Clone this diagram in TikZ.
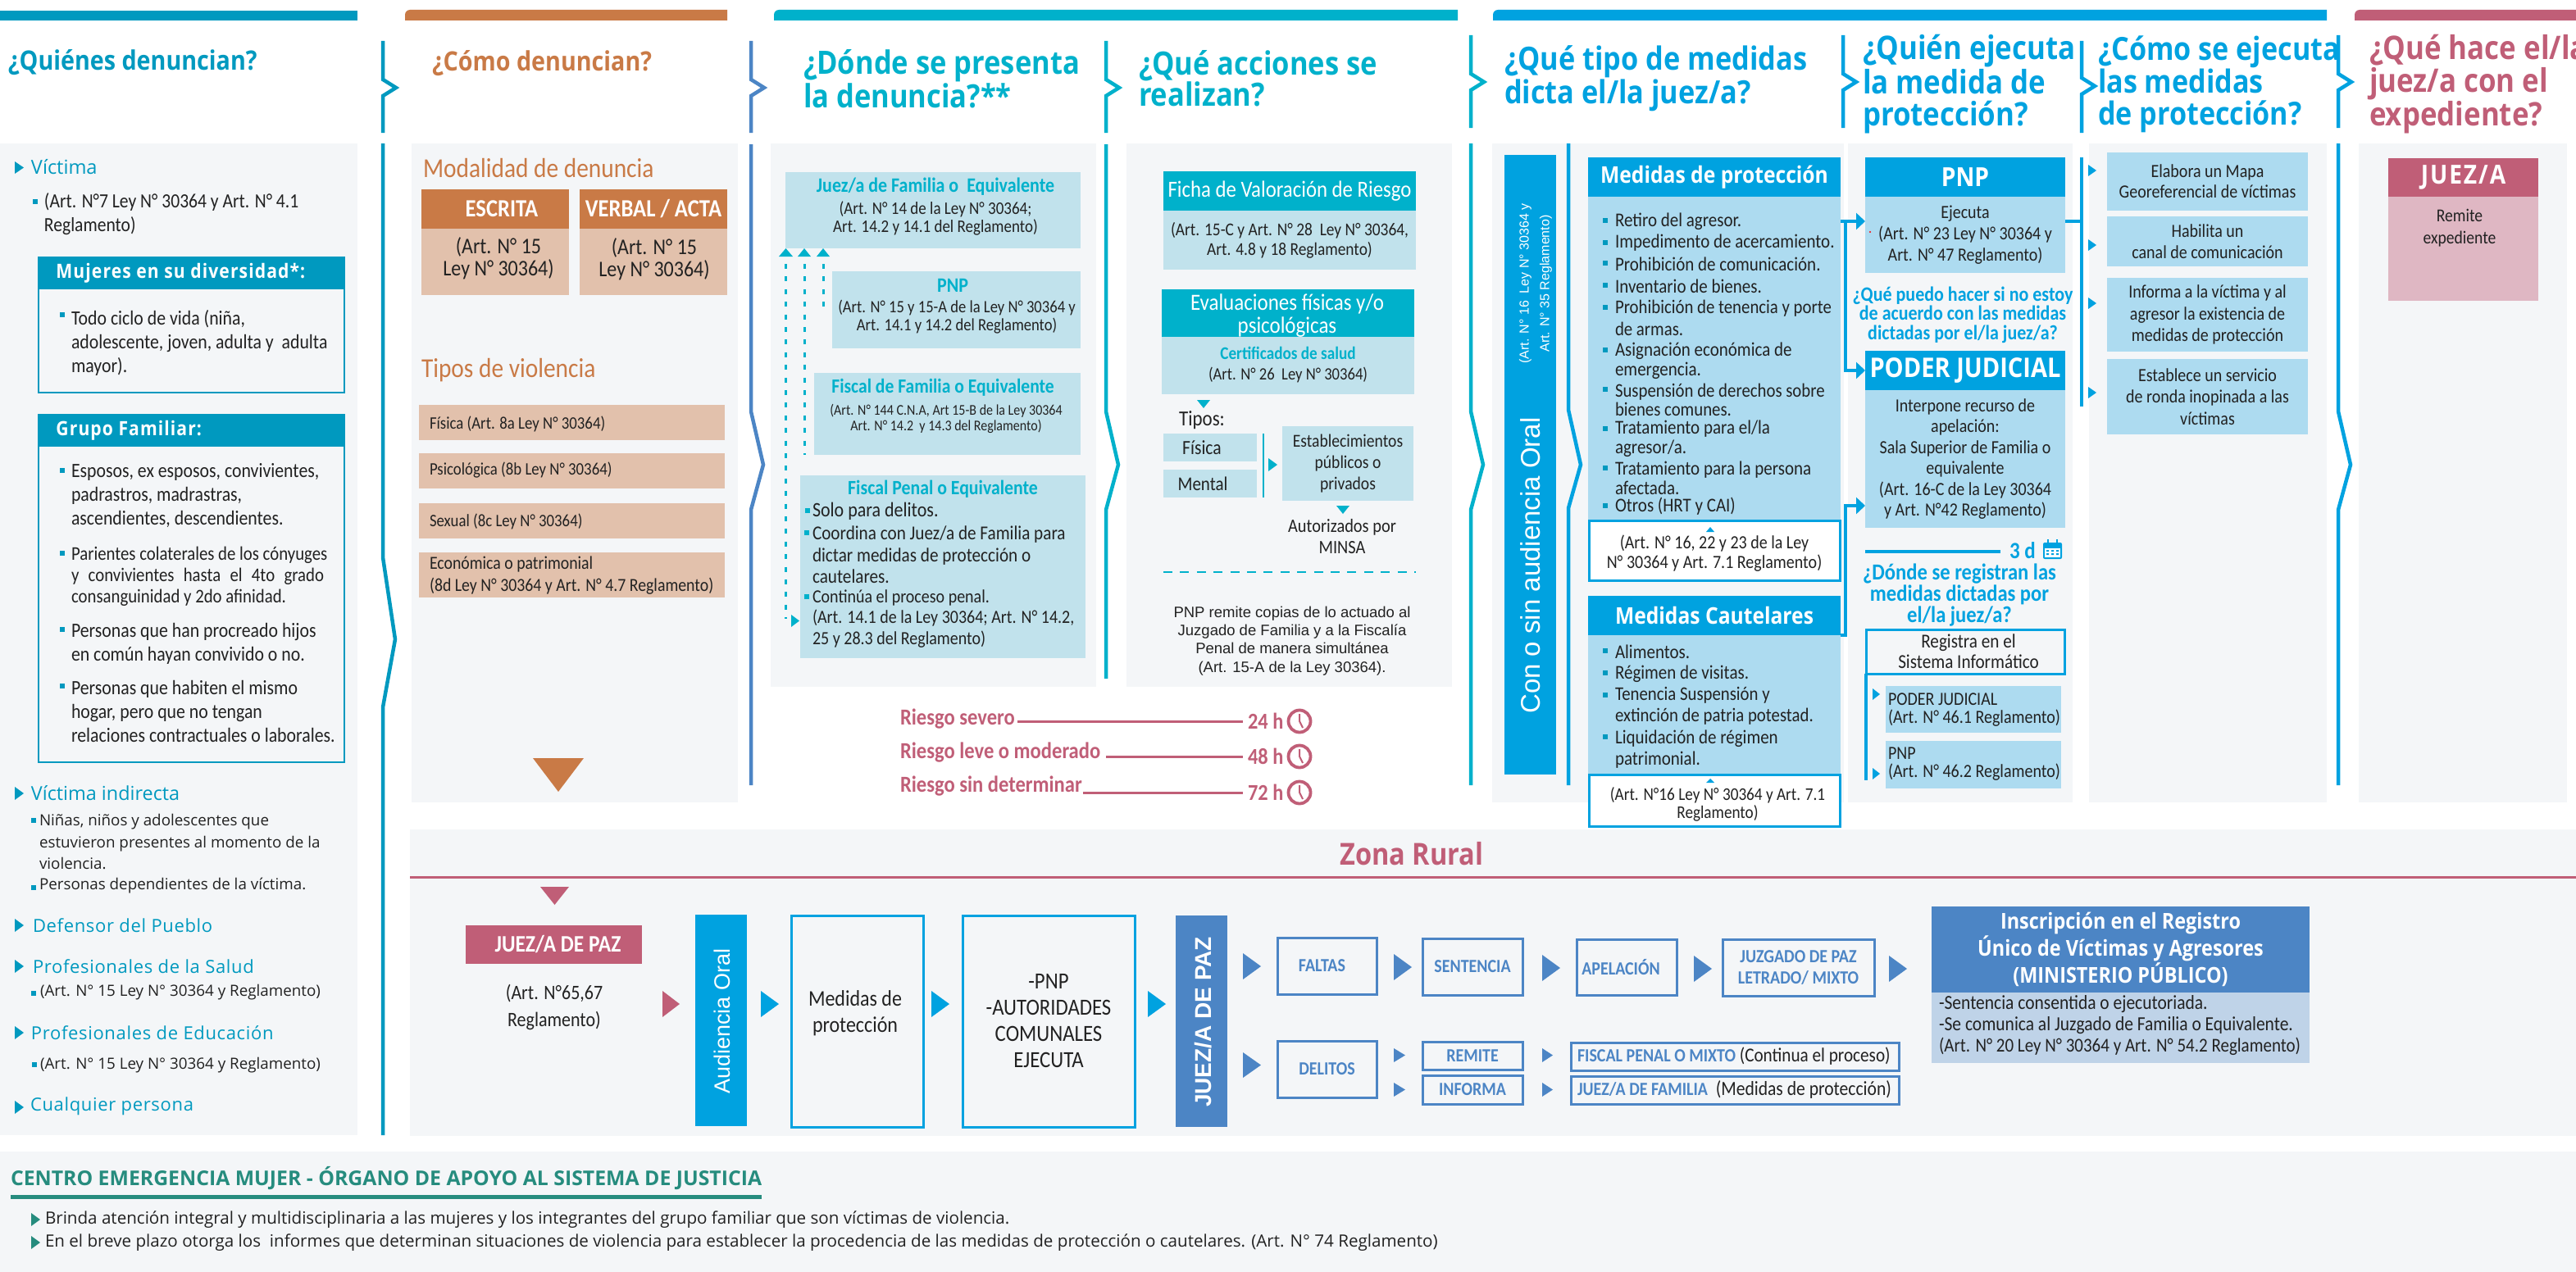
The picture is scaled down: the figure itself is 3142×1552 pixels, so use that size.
\documentclass[tikz,border=0pt]{standalone}
\usepackage{fontspec}
\usetikzlibrary{arrows.meta,calc}
\setmainfont[FakeStretch=0.88]{Carlito}
\newfontfamily\opnf{Open Sans}
\newfontfamily\libf{Liberation Sans}
\newfontfamily\hdgf[FakeStretch=0.88]{Open Sans}
\def\fsc{1.136}
\newcommand{\opn}{\opnf\def\fsc{1}}
\newcommand{\lib}{\libf\def\fsc{1}}
\newcommand{\hdg}{\hdgf\def\fsc{1}}
\definecolor{cTeal}{HTML}{0099BF}
\definecolor{cOr}{HTML}{C97A46}
\definecolor{cOrL}{HTML}{E2C1AC}
\definecolor{cCy}{HTML}{00B1CB}
\definecolor{cCyL}{HTML}{C1E2EC}
\definecolor{cBl}{HTML}{00A2E0}
\definecolor{cBlL}{HTML}{ADDBF0}
\definecolor{cRo}{HTML}{C05E77}
\definecolor{cRoL}{HTML}{DFB7C3}
\definecolor{cSt}{HTML}{4C85C5}
\definecolor{cStL}{HTML}{BFD3E8}
\definecolor{cPa}{HTML}{F4F6F8}
\definecolor{cGr}{HTML}{268C7E}
\definecolor{ink}{HTML}{222222}
\newcommand{\fz}[2]{\pgfmathsetmacro\fzs{#1*\fsc}\fontsize{\fzs}{#2}\selectfont}
\tikzset{
 tl/.style={inner sep=0pt,outer sep=0pt,anchor=west,align=left},
 tc/.style={inner sep=0pt,outer sep=0pt,anchor=center,align=center},
 fillbox/.style={fill=#1,draw=none},
 linebox/.style={draw=#1,line width=1.5pt,fill=none},
 thinbox/.style={draw=#1,line width=1pt,fill=none},
 whitebox/.style={draw=#1,line width=1.5pt,fill=white},
 brk/.style={draw=#1,line width=2.25pt,line join=miter},
 link/.style={draw=cBl,line width=2pt},
 linkarrow/.style={draw=cBl,line width=2pt,-{Triangle[length=5.5pt,width=10pt]}},
 dots/.style={draw=cCy,line width=1.5pt,dash pattern=on 3pt off 4.7pt},
 riskline/.style={draw=cRo,line width=1.5pt},
 clock/.style={circle,draw=cRo,line width=1.9pt,minimum size=13.5pt,inner sep=0pt,outer sep=0pt}
}
\newcommand{\Bx}[7]{\node[#2,inner sep=0pt,outer sep=0pt,align=center,minimum width={(#5-#3)*0.5pt},minimum height={(#6-#4)*0.5pt}] (#1) at ({(#3+#5)/2},{(#4+#6)/2}) {#7};}
\newcommand{\Tl}[6]{\node[tl,text=#5,font=#4] (#1) at (#2,#3) {#6};}
\newcommand{\Tc}[6]{\node[tc,text=#5,font=#4] (#1) at (#2,#3) {#6};}
\newcommand{\Tr}[6]{\node[tc,text=#5,font=#4,rotate=90] (#1) at (#2,#3) {#6};}
\newcommand{\TR}[5]{\fill[#1] (#2,#3)--(#4,{(#3+#5)/2})--(#2,#5)--cycle;}
\newcommand{\TD}[5]{\fill[#1] (#2,#3)--(#4,#3)--({(#2+#4)/2},#5)--cycle;}
\newcommand{\TU}[5]{\fill[#1] (#2,#5)--(#4,#5)--({(#2+#4)/2},#3)--cycle;}
\newcommand{\Sq}[4]{\fill[#1] ({#2-#4/2},{#3-#4/2}) rectangle ({#2+#4/2},{#3+#4/2});}
\newcommand{\Brk}[5]{\draw[brk=#1] (#2,#3)--(#2,{#4-10})--({#2+16},#4)--(#2,{#4+10})--(#2,#5);}
\newcommand{\LBrk}[7]{\draw[brk=#1] (#2,#3)--(#2,#4)--({#2+15},#5)--(#2,#6)--(#2,#7);}
\newcommand{\Clk}[3]{\node[clock] (#1) at (#2,#3) {};\draw[cRo,line width=1pt] ($(#1.center)+(0,-9)$)--(#1.center)--($(#1.center)+(4,8)$);}
\newcommand{\TopBar}[3]{\fill[#1] (#2,25) {[rounded corners=3pt] --(#2,12)--({#2+30},12)} --(#3,12)--(#3,25)--cycle;}
\begin{document}
\begin{tikzpicture}[x=0.5pt,y=-0.5pt]
\useasboundingbox (0,0) rectangle (3142,1552);
% top bars
\fill[cTeal] (0,13) rectangle (436,25);
\TopBar{cOr}{494}{887}
\TopBar{cCy}{944}{1778}
\TopBar{cBl}{1821}{2838}
\TopBar{cRo}{2872}{3142}
% panels
\fill[cPa] (0,175) rectangle (436,1385);
\fill[cPa] (502,175) rectangle (900,979);
\fill[cPa] (940,175) rectangle (1337,838);
\fill[cPa] (1374,175) rectangle (1771,838);
\fill[cPa] (1820,175) rectangle (2249,979);
\fill[cPa] (2254,175) rectangle (2528,979);
\fill[cPa] (2548,175) rectangle (2838,979);
\fill[cPa] (2877,175) rectangle (3131,979);
\fill[cPa] (500,1012) rectangle (3142,1386);
\fill[cPa] (0,1405) rectangle (3142,1552);
% brackets
\Brk{cTeal}{467}{50}{107}{162}
\Brk{cSt}{916}{50}{107}{162}
\Brk{cCy}{1349}{50}{107}{162}
\Brk{cCy}{1794}{43}{100}{156}
\Brk{cBl}{2248}{43}{100}{156}
\Brk{cBl}{2539}{50}{105}{162}
\Brk{cBl}{2852}{43}{100}{156}
\LBrk{cTeal}{467}{175}{680}{780}{863}{1385}
\LBrk{cSt}{916}{176}{502}{567}{622}{958}
\LBrk{cCy}{1349}{176}{502}{567}{622}{828}
\LBrk{cCy}{1794}{175}{502}{567}{622}{958}
\LBrk{cBl}{1913}{175}{500}{567}{620}{958}
\LBrk{cBl}{2852}{175}{502}{567}{622}{958}
% titles
\Tl{h1}{10}{76}{\hdg\fz{16.3}{19}\bfseries}{cTeal}{¿Quiénes denuncian?}
\Tl{h2}{527}{77}{\hdg\fz{16.3}{19}\bfseries}{cOr}{¿Cómo denuncian?}
\Tl{h3}{980}{96}{\hdg\fz{19.6}{19}\bfseries}{cCy}{¿Dónde se presenta\\la denuncia?**}
\Tl{h4}{1389}{96}{\hdg\fz{19.6}{19}\bfseries}{cCy}{¿Qué acciones se\\realizan?}
\Tl{h5}{1835}{96}{\hdg\fz{19.5}{19}\bfseries}{cBl}{¿Qué tipo de medidas\\dicta el/la juez/a?}
\Tl{h6}{2272}{103}{\hdg\fz{19.8}{19.7}\bfseries}{cBl}{¿Quién ejecuta\\la medida de\\protección?}
\Tl{h7}{2559}{103}{\hdg\fz{19.4}{19.7}\bfseries}{cBl}{¿Cómo se ejecuta\\las medidas\\de protección?}
\Tl{h8}{2890}{103}{\hdg\fz{19.8}{19.7}\bfseries}{cRo}{¿Qué hace el/la\\juez/a con el\\expediente?}
% column 1
\TR{cTeal}{18}{197}{29}{212}
\Tl{c1a}{38}{204}{\opn\fz{11.8}{13}}{cTeal}{Víctima}
\Sq{cTeal}{43}{246}{6}
\Tl{c1b}{54}{261}{\fz{10.8}{14.5}}{ink}{(Art. N°7 Ley N° 30364 y Art. N° 4.1\\Reglamento)}
\Bx{mujB}{thinbox=cTeal}{47}{340}{420}{479}{}
\Bx{mujH}{fillbox=cTeal,text=white,font=\hdg\fz{12}{14}\bfseries\addfontfeature{LetterSpace=4.5}}{46}{313}{421}{353}{\makebox[165pt][l]{Mujeres en su diversidad*:}}
\Sq{cTeal}{76}{384}{6}
\Tl{c1c}{87}{418}{\fz{10.9}{14.5}}{ink}{Todo ciclo de vida (niña,\\adolescente, joven, adulta y\ \ adulta\\mayor).}
\Bx{gruB}{thinbox=cTeal}{47}{530}{420}{930}{}
\Bx{gruH}{fillbox=cTeal,text=white,font=\hdg\fz{12}{14}\bfseries\addfontfeature{LetterSpace=4.5}}{46}{505}{421}{545}{\makebox[165pt][l]{Grupo Familiar:}}
\Sq{cTeal}{76}{574}{6}
\Tl{c1d}{87}{605}{\fz{10.9}{14.5}}{ink}{Esposos, ex esposos, convivientes,\\padrastros, madrastras,\\ascendientes, descendientes.}
\Sq{cTeal}{76}{675}{6}
\Tl{c1e}{87}{703}{\fz{10.4}{13}}{ink}{Parientes colaterales de los cónyuges\\\makebox[154pt][s]{y convivientes hasta el 4to grado}\\consanguinidad y 2do afinidad.}
\Sq{cTeal}{76}{768}{6}
\Tl{c1f}{87}{785}{\fz{10.9}{14.5}}{ink}{Personas que han procreado hijos\\en común hayan convivido o no.}
\Sq{cTeal}{76}{837}{6}
\Tl{c1g}{87}{868}{\fz{10.9}{14.5}}{ink}{Personas que habiten el mismo\\hogar, pero que no tengan\\relaciones contractuales o laborales.}
\TR{cTeal}{18}{960}{29}{976}
\Tl{c1h}{38}{968}{\opn\fz{11.7}{13}}{cTeal}{Víctima indirecta}
\Sq{cTeal}{41}{1001}{6}
\Tl{c1i}{48}{1027}{\opn\fz{9.4}{13.4}}{ink}{Niñas, niños y adolescentes que\\estuvieron presentes al momento de la\\violencia.}
\Sq{cTeal}{41}{1083}{6}
\Tl{c1j}{48}{1081}{\opn\fz{9.4}{13}}{ink}{Personas dependientes de la víctima.}
\TR{cTeal}{18}{1121}{29}{1137}
\Tl{c1k}{40}{1129}{\opn\fz{11}{13}\addfontfeature{LetterSpace=3}}{cTeal}{Defensor del Pueblo}
\TR{cTeal}{18}{1171}{29}{1187}
\Tl{c1l}{40}{1179}{\opn\fz{11}{13}\addfontfeature{LetterSpace=3}}{cTeal}{Profesionales de la Salud}
\Sq{cTeal}{41}{1212}{6}
\Tl{c1m}{49}{1211}{\opn\fz{9.4}{13}}{ink}{(Art. N° 15 Ley N° 30364 y Reglamento)}
\TR{cTeal}{18}{1252}{29}{1268}
\Tl{c1n}{38}{1260}{\opn\fz{11}{13}\addfontfeature{LetterSpace=3}}{cTeal}{Profesionales de Educación}
\Sq{cTeal}{42}{1299}{6}
\Tl{c1o}{49}{1300}{\opn\fz{9.4}{13}}{ink}{(Art. N° 15 Ley N° 30364 y Reglamento)}
\TR{cTeal}{18}{1343}{29}{1359}
\Tl{c1p}{37}{1350}{\opn\fz{11}{13}\addfontfeature{LetterSpace=3}}{cTeal}{Cualquier persona}
% column 2
\Tl{c2a}{516}{205}{\fz{14.7}{17}}{cOr}{Modalidad de denuncia}
\Bx{esH}{fillbox=cOr,text=white,font=\fz{13.3}{14}\bfseries}{514}{231}{694}{279}{\hspace*{8pt}ESCRITA}
\Bx{esB}{fillbox=cOrL}{514}{279}{694}{360}{}
\Tc{est}{608}{315}{\fz{12}{13.5}}{ink}{(Art. N° 15\\Ley N° 30364)}
\Bx{veH}{fillbox=cOr,text=white,font=\fz{13.3}{14}\bfseries}{707}{231}{887}{279}{VERBAL / ACTA}
\Bx{veB}{fillbox=cOrL}{707}{279}{887}{360}{}
\Tc{vet}{798}{316}{\fz{12}{13.5}}{ink}{(Art. N° 15\\Ley N° 30364)}
\Tl{c2b}{514}{452}{\fz{14.7}{16}}{cOr}{Tipos de violencia}
\Bx{v1}{fillbox=cOrL}{511}{494}{884}{537}{}
\Tl{v1t}{524}{517}{\fz{9.4}{12}}{ink}{Física (Art. 8a Ley N° 30364)}
\Bx{v2}{fillbox=cOrL}{511}{553}{884}{596}{}
\Tl{v2t}{524}{574}{\fz{9.4}{12}}{ink}{Psicológica (8b Ley N° 30364)}
\Bx{v3}{fillbox=cOrL}{511}{614}{884}{657}{}
\Tl{v3t}{524}{636}{\fz{9.4}{12}}{ink}{Sexual (8c Ley N° 30364)}
\Bx{v4}{fillbox=cOrL}{511}{674}{884}{729}{}
\Tl{v4t}{524}{702}{\fz{9.9}{13.3}}{ink}{Económica o patrimonial\\(8d Ley N° 30364 y Art. N° 4.7 Reglamento)}
\TD{cOr}{650}{925}{712}{966}
% column 3
\Bx{q1}{fillbox=cCyL}{958}{210}{1318}{303}{}
\Tc{q1t}{1141}{228}{\fz{11}{12}\bfseries}{cCy}{Juez/a de Familia o\ \ Equivalente}
\Tc{q1a}{1141}{266}{\fz{9.5}{11}}{ink}{(Art. N° 14 de la Ley N° 30364;\\Art. 14.2 y 14.1 del Reglamento)}
\Bx{q2}{fillbox=cCyL}{1015}{331}{1318}{425}{}
\Tc{q2t}{1162}{348}{\fz{11}{12}\bfseries}{cCy}{PNP}
\Tc{q2a}{1167}{387}{\fz{9.3}{11}}{ink}{(Art. N° 15 y 15-A de la Ley N° 30364 y\\Art. 14.1 y 14.2 del Reglamento)}
\Bx{q3}{fillbox=cCyL}{993}{455}{1318}{555}{}
\Tc{q3t}{1150}{473}{\fz{10.8}{12}\bfseries}{cCy}{Fiscal de Familia o Equivalente}
\Tc{q3a}{1154}{511}{\fz{8}{9.8}}{ink}{(Art. N° 144 C.N.A, Art 15-B de la Ley 30364\\Art. N° 14.2\ \ y 14.3 del Reglamento)}
\Bx{q4}{fillbox=cCyL}{976}{580}{1324}{803}{}
\Tc{q4t}{1150}{597}{\fz{10.9}{12}\bfseries}{cCy}{Fiscal Penal o Equivalente}
\Sq{cCy}{985}{623}{6}
\Tl{q4a}{991}{624}{\fz{11}{12}}{ink}{Solo para delitos.}
\Sq{cCy}{984}{650}{6}
\Tl{q4b}{991}{677}{\fz{10.6}{13.2}}{ink}{Coordina con Juez/a de Familia para\\dictar medidas de protección o\\cautelares.}
\Sq{cCy}{984}{728}{6}
\Tl{q4c}{991}{755}{\fz{10}{12.7}}{ink}{Continúa el proceso penal.\\(Art. 14.1 de la Ley 30364; Art. N° 14.2,\\25 y 28.3 del Reglamento)}
\coordinate (da) at (958.5,322);\coordinate (db) at (981,322);\coordinate (dc) at (1004,322);
\draw[dots] (da)--(da |- q4c);
\draw[dots] (db)--(db |- q3.south);
\draw[dots] (dc)--(dc |- q2.center);
\TU{cCy}{950}{303}{967}{313}
\TU{cCy}{973}{303}{989}{313}
\TU{cCy}{996}{303}{1012}{313}
\TR{cCy}{965}{750}{975}{765}
% column 4
\Bx{aH}{fillbox=cCy,text=white,font=\fz{12.4}{14}}{1419}{209}{1727}{257}{\raisebox{-1pt}{Ficha de Valoración de Riesgo}}
\Bx{aB}{fillbox=cCyL,text=ink,font=\fz{9.7}{12}}{1419}{257}{1727}{329}{(Art. 15-C y Art. N° 28\ \ Ley N° 30364,\\Art. 4.8 y 18 Reglamento)}
\Bx{bH}{fillbox=cCy}{1417}{353}{1725}{411}{}
\Tc{bHt}{1570}{385}{\fz{12.5}{14}}{white}{Evaluaciones físicas y/o\\psicológicas}
\Bx{bB}{fillbox=cCyL}{1417}{411}{1725}{481}{}
\Tc{bt}{1571}{431}{\fz{9.6}{12}\bfseries}{cCy}{Certificados de salud}
\Tc{ba}{1571}{457}{\fz{9.3}{12}}{ink}{(Art. N° 26\ \ Ley N° 30364)}
\TD{cCy}{1460}{488}{1476}{498}
\Tc{tip}{1466}{513}{\fz{11.5}{12}}{ink}{Tipos:}
\Bx{fi}{fillbox=cCyL,text=ink,font=\fz{10.8}{12}}{1419}{529}{1533}{563}{\hspace*{-10pt}Física}
\Bx{me}{fillbox=cCyL,text=ink,font=\fz{10.5}{12}}{1419}{573}{1533}{607}{\hspace*{-9pt}Mental}
\draw[draw=cCy,line width=1.3pt] ($(fi.north east)+(8,0)$)--($(me.south east)+(8,0)$);
\TR{cCy}{1547}{559}{1558}{575}
\Bx{es}{fillbox=cCyL,text=ink,font=\fz{9.8}{13}}{1564}{520}{1724}{611}{Establecimientos\\públicos o\\privados}
\TD{cCy}{1630}{617}{1646}{627}
\Tc{au}{1637}{655}{\fz{10.2}{13}}{ink}{Autorizados por\\MINSA}
\coordinate (dsh) at (1419,698);
\draw[draw=cCy,line width=1.1pt,dash pattern=on 5.5pt off 4.7pt] (dsh)--(dsh -| aH.east);
\Tc{rem}{1576}{782}{\lib\fz{9.25}{11.2}}{ink}{PNP remite copias de lo actuado al\\Juzgado de Familia y a la Fiscalía\\Penal de manera simultánea\\(Art. 15-A de la Ley 30364).}
% risk
\Tl{r1}{1098}{877}{\fz{12.3}{14}\bfseries}{cRo}{Riesgo severo}
\Tl{r2}{1098}{918}{\fz{12.3}{14}\bfseries}{cRo}{Riesgo leve o moderado}
\Tl{r3}{1098}{959}{\fz{12.3}{14}\bfseries}{cRo}{Riesgo sin determinar}
\Tl{h24}{1522}{880}{\fz{12.2}{14}\bfseries}{cRo}{24 h}
\Tl{h48}{1522}{923}{\fz{12.2}{14}\bfseries}{cRo}{48 h}
\Tl{h72}{1522}{967}{\fz{12.2}{14}\bfseries}{cRo}{72 h}
\draw[riskline] ($(r1.east |- h24.west)+(3,0)$)--($(h24.west)+(-6,0)$);
\draw[riskline] ($(r2.east |- h48.west)+(7,0)$)--($(h48.west)+(-6,0)$);
\draw[riskline] ($(r3.east |- h72.west)+(1,0)$)--($(h72.west)+(-6,0)$);
\Clk{k1}{1585}{880}
\Clk{k2}{1585}{923}
\Clk{k3}{1585}{967}
% column 5
\Bx{side}{fillbox=cBl}{1835}{189}{1898}{945}{}
\Tr{sa}{1873}{346}{\lib\fz{8}{12.5}}{white}{(Art. N° 16\ \ Ley N° 30364 y\\Art. N° 35 Reglamento)}
\Tr{sb}{1867}{690}{\lib\fz{16.5}{20}}{white}{Con o sin audiencia Oral}
\Bx{mpH}{fillbox=cBl,text=white,font=\hdg\fz{14}{15}\bfseries}{1937}{192}{2245}{240}{\raisebox{-1pt}{Medidas de protección}}
\Bx{mpB}{fillbox=cBlL}{1937}{240}{2245}{635}{}
\Sq{cTeal}{1958}{269}{6}\Tl{m1}{1970}{270}{\fz{10.5}{12}}{ink}{Retiro del agresor.}
\Sq{cTeal}{1958}{296}{6}\Tl{m2}{1970}{296}{\fz{10.5}{12}}{ink}{Impedimento de acercamiento.}
\Sq{cTeal}{1958}{321}{6}\Tl{m3}{1970}{322}{\fz{10.5}{12}}{ink}{Prohibición de comunicación.}
\Sq{cTeal}{1958}{348}{6}\Tl{m4}{1970}{349}{\fz{10.5}{12}}{ink}{Inventario de bienes.}
\Sq{cTeal}{1958}{375}{6}\Tl{m5}{1970}{388}{\fz{10.4}{13.4}}{ink}{Prohibición de tenencia y porte\\de armas.}
\Sq{cTeal}{1958}{427}{6}\Tl{m6}{1970}{440}{\fz{10.5}{12.2}}{ink}{Asignación económica de\\emergencia.}
\Sq{cTeal}{1958}{475}{6}\Tl{m7}{1970}{488}{\fz{10.4}{11.5}}{ink}{Suspensión de derechos sobre\\bienes comunes.}
\Sq{cTeal}{1958}{523}{6}\Tl{m8}{1970}{535}{\fz{10.5}{12}}{ink}{Tratamiento para el/la\\agresor/a.}
\Sq{cTeal}{1958}{571}{6}\Tl{m9}{1970}{583}{\fz{10.5}{12}}{ink}{Tratamiento para la persona\\afectada.}
\Sq{cTeal}{1958}{617}{6}\Tl{m10}{1970}{618}{\fz{10.5}{12}}{ink}{Otros (HRT y CAI)}
\Bx{mpN}{whitebox=cBl}{1938}{635}{2244}{708}{}
\TU{cBl}{2081}{643}{2091}{649}
\Tc{mpa}{2091}{675}{\fz{10}{12}}{ink}{(Art. N° 16, 22 y 23 de la Ley\\N° 30364 y Art. 7.1 Reglamento)}
\Bx{mcH}{fillbox=cBl,text=white,font=\hdg\fz{14}{15}\bfseries}{1937}{727}{2245}{775}{\raisebox{-1pt}{Medidas Cautelares}}
\Bx{mcB}{fillbox=cBlL}{1937}{775}{2245}{945}{}
\Sq{cTeal}{1958}{794}{6}\Tl{n1}{1970}{795}{\fz{10.5}{12}}{ink}{Alimentos.}
\Sq{cTeal}{1958}{821}{6}\Tl{n2}{1970}{822}{\fz{10.5}{12}}{ink}{Régimen de visitas.}
\Sq{cTeal}{1958}{848}{6}\Tl{n3}{1970}{861}{\fz{10.4}{13}}{ink}{Tenencia Suspensión y\\extinción de patria potestad.}
\Sq{cTeal}{1958}{899}{6}\Tl{n4}{1970}{914}{\fz{10.5}{12.7}}{ink}{Liquidación de régimen\\patrimonial.}
\Bx{mcN}{whitebox=cBl}{1938}{945}{2244}{1008}{}
\TU{cBl}{2081}{950}{2091}{955}
\Tc{mca}{2095}{981}{\fz{9.6}{11}}{ink}{(Art. N°16 Ley N° 30364 y Art. 7.1\\Reglamento)}
% column 6
\Bx{pnH}{fillbox=cBl,text=white,font=\hdg\fz{16}{16}\bfseries}{2275}{192}{2519}{240}{PNP}
\Bx{pnB}{fillbox=cBlL,text=ink,font=\fz{10}{13}}{2275}{240}{2519}{333}{Ejecuta\\(Art. N° 23 Ley N° 30364 y\\Art. N° 47 Reglamento)}
\fill[red] (2281,283) circle (0.6pt);
\Tc{qp}{2394}{384}{\fz{11}{11.7}\bfseries}{cBl}{¿Qué puedo hacer si no estoy\\de acuerdo con las medidas\\dictadas por el/la juez/a?}
\Bx{pjH}{fillbox=cBl,text=white,font=\hdg\fz{16.5}{16}\bfseries}{2275}{428}{2519}{476}{\raisebox{-1pt}{PODER JUDICIAL}}
\Bx{pjB}{fillbox=cBlL,text=ink,font=\fz{10}{12.7}}{2275}{476}{2519}{644}{Interpone recurso de\\apelación:\\Sala Superior de Familia o\\equivalente\\(Art. 16-C de la Ley 30364\\y Art. N°42 Reglamento)}
\coordinate (ya) at (2251,270);
\coordinate (yb) at (2251,617);
\draw[linkarrow] (mpB.east |- ya)--(pnB.west |- ya);
\draw[linkarrow] (ya) |- (pjH.west);
\draw[linkarrow] (mcH.south east) -| (yb) -- (pjB.west |- yb);
\coordinate (ln3) at (2275,673);
\coordinate (ln3e) at (2440,673);
\draw[draw=cBl,line width=2.3pt] (ln3)--(ln3e);
\Tl{d3}{2451}{672}{\fz{12.5}{14}\bfseries}{cBl}{3 d}
\fill[cBl,rounded corners=1pt] (2492,662) rectangle (2515,682);
\fill[white] (2494,669) rectangle (2513,680);
\fill[cBl] (2496,671) rectangle (2499,673) (2502,671) rectangle (2505,673) (2508,671) rectangle (2511,673) (2496,675) rectangle (2499,677) (2502,675) rectangle (2505,677) (2508,675) rectangle (2511,677);
\draw[draw=cBl,line width=1pt] (2498,658)--(2498,665) (2509,658)--(2509,665);
\Tc{qd}{2390}{726}{\fz{12.3}{12}\bfseries}{cBl}{¿Dónde se registran las\\medidas dictadas por\\el/la juez/a?}
\Bx{reg}{linebox=cBl,text=ink,font=\fz{10.6}{12.4}}{2276}{768}{2518}{822}{\hspace*{4pt}Registra en el\\\hspace*{4pt}Sistema Informático}
\coordinate (rv) at (2276,952);
\draw[link] (reg.south west)--(rv);
\TR{cBl}{2284}{840}{2293}{854}
\TR{cBl}{2284}{937}{2293}{951}
\Bx{rj}{fillbox=cBlL}{2300}{837}{2514}{894}{}
\Tl{rjt}{2303}{866}{\fz{10}{11}}{ink}{PODER JUDICIAL\\(Art. N° 46.1 Reglamento)}
\Bx{rp}{fillbox=cBlL}{2300}{904}{2514}{962}{}
\Tl{rpt}{2303}{932}{\fz{10}{11}}{ink}{PNP\\(Art. N° 46.2 Reglamento)}
% column 7
\coordinate (vtop) at (2539,192);
\coordinate (vbot) at (2539,496);
\draw[link] (vtop)--(vbot);
\coordinate (vjn) at (2539,270);
\draw[link] (pnB.east |- vjn)--(vjn);
\TR{cBl}{2547}{201}{2557}{215}
\TR{cBl}{2547}{292}{2557}{306}
\TR{cBl}{2547}{363}{2557}{377}
\TR{cBl}{2547}{472}{2557}{486}
\Bx{e1}{fillbox=cBlL,text=ink,font=\fz{10}{12.5}}{2570}{186}{2815}{257}{Elabora un Mapa\\Georeferencial de víctimas}
\Bx{e2}{fillbox=cBlL,text=ink,font=\fz{10}{13.3}}{2570}{264}{2815}{325}{Habilita un\\canal de comunicación}
\Bx{e3}{fillbox=cBlL,text=ink,font=\fz{10}{13.2}}{2570}{339}{2815}{429}{Informa a la víctima y al\\agresor la existencia de\\medidas de protección}
\Bx{e4}{fillbox=cBlL,text=ink,font=\fz{10}{13.2}}{2570}{438}{2815}{530}{Establece un servicio\\de ronda inopinada a las\\víctimas}
% column 8
\Bx{jH}{fillbox=cRo,text=white,font=\hdg\fz{16}{15}\bfseries\addfontfeature{LetterSpace=6}}{2913}{193}{3096}{240}{JUEZ/A}
\Bx{jB}{fillbox=cRoL}{2913}{240}{3096}{367}{}
\Tc{jt}{3000}{278}{\fz{9.8}{13.4}}{ink}{Remite\\expediente}
% zona rural
\coordinate (zl) at (500,1070);
\coordinate (zr0) at (3142,1070);
\draw[draw=cRo,line width=1.5pt] (zl)--(zr0);
\Tc{zr}{1722}{1042}{\hdg\fz{18.5}{18}\bfseries}{cRo}{Zona Rural}
\TD{cRo}{659}{1082}{694}{1104}
\Bx{jp}{fillbox=cRo,text=white,font=\fz{12.7}{14}\bfseries}{568}{1129}{783}{1176}{\hspace*{5pt}JUEZ/A DE PAZ}
\Tc{jpa}{676}{1229}{\fz{11}{16.5}}{ink}{(Art. N°65,67\\Reglamento)}
\TR{cRo}{808}{1209}{829}{1241}
\Bx{ao}{fillbox=cBl}{848}{1116}{911}{1374}{}
\Tr{aot}{881}{1246}{\lib\fz{13.5}{16}}{white}{Audiencia Oral}
\TR{cBl}{928}{1209}{950}{1241}
\Bx{zm}{linebox=cBl}{965}{1117}{1126}{1375}{}
\Tc{zmt}{1043}{1236}{\fz{12}{16}}{ink}{Medidas de\\protección}
\TR{cBl}{1136}{1209}{1158}{1241}
\Bx{za}{linebox=cBl,text=ink,font=\fz{12.4}{16}}{1174}{1117}{1384}{1375}{-PNP\\-AUTORIDADES\\COMUNALES\\EJECUTA}
\TR{cBl}{1400}{1209}{1422}{1241}
\Bx{jz}{fillbox=cSt}{1434}{1117}{1497}{1375}{}
\Tr{jzt}{1468}{1247}{\lib\fz{14}{16}\bfseries}{white}{JUEZ/A DE PAZ}
\tikzset{sb/.style={linebox=cSt,text=cSt,font=\fz{10}{13}\bfseries}}
\TR{cSt}{1516}{1163}{1538}{1195}
\Bx{fa}{sb}{1558}{1144}{1679}{1213}{\hspace*{-6pt}FALTAS}
\TR{cSt}{1700}{1164}{1722}{1196}
\Bx{se}{sb}{1735}{1145}{1857}{1214}{SENTENCIA}
\TR{cSt}{1881}{1165}{1903}{1197}
\Bx{ap}{sb}{1923}{1146}{2045}{1214}{\hspace*{-7pt}APELACIÓN}
\TR{cSt}{2066}{1166}{2088}{1198}
\Bx{ju}{sb}{2101}{1146}{2286}{1215}{JUZGADO DE PAZ\\LETRADO/ MIXTO}
\TR{cSt}{2304}{1166}{2326}{1198}
\TR{cSt}{1516}{1284}{1538}{1315}
\Bx{de}{sb}{1558}{1270}{1679}{1339}{DELITOS}
\TR{cSt}{1700}{1279}{1714}{1296}
\TR{cSt}{1700}{1321}{1714}{1338}
\Bx{re}{sb}{1735}{1271}{1857}{1305}{REMITE}
\Bx{inf}{sb}{1735}{1312}{1857}{1347}{INFORMA}
\TR{cSt}{1881}{1279}{1894}{1296}
\TR{cSt}{1881}{1321}{1894}{1338}
\Bx{fp}{linebox=cSt}{1916}{1272}{2316}{1306}{}
\Tl{fpt}{1924}{1289}{\fz{10.6}{12}}{ink}{\textcolor{cSt}{\fz{10}{12}\bfseries FISCAL PENAL O MIXTO} (Continua el proceso)}
\Bx{jf}{linebox=cSt}{1916}{1313}{2316}{1347}{}
\Tl{jft}{1924}{1329}{\fz{10.8}{12}}{ink}{\textcolor{cSt}{\fz{10}{12}\bfseries JUEZ/A DE FAMILIA}\ \ (Medidas de protección)}
\Bx{inH}{fillbox=cSt,text=white,font=\hdg\fz{13.3}{15.5}\bfseries}{2356}{1106}{2817}{1211}{Inscripción en el Registro\\Único de Víctimas y Agresores\\(MINISTERIO PÚBLICO)}
\Bx{inB}{fillbox=cStL}{2356}{1211}{2817}{1297}{}
\Tl{inT}{2365}{1251}{\fz{10.75}{13}}{ink}{-Sentencia consentida o ejecutoriada.\\-Se comunica al Juzgado de Familia o Equivalente.\\{\fz{10.5}{13}(Art. N° 20 Ley N° 30364 y Art. N° 54.2 Reglamento)}}
% CEM
\Tl{cem}{13}{1438}{\opn\fz{12.4}{13}\bfseries}{cGr}{CENTRO EMERGENCIA MUJER - ÓRGANO DE APOYO AL SISTEMA DE JUSTICIA}
\draw[draw=cGr,line width=2.4pt] ($(cem.south west)+(0,8)$)--($(cem.south east)+(0,8)$);
\TR{cGr}{38}{1480}{49}{1496}
\Tl{cem1}{55}{1488}{\opn\fz{10.3}{12}}{ink}{Brinda atención integral y multidisciplinaria a las mujeres y los integrantes del grupo familiar que son víctimas de violencia.}
\TR{cGr}{38}{1508}{49}{1524}
\Tl{cem2}{55}{1516}{\opn\fz{10.3}{12}}{ink}{En el breve plazo otorga los\ \ informes que determinan situaciones de violencia para establecer la procedencia de las medidas de protección o cautelares. (Art. N° 74 Reglamento)}
\end{tikzpicture}
\end{document}
